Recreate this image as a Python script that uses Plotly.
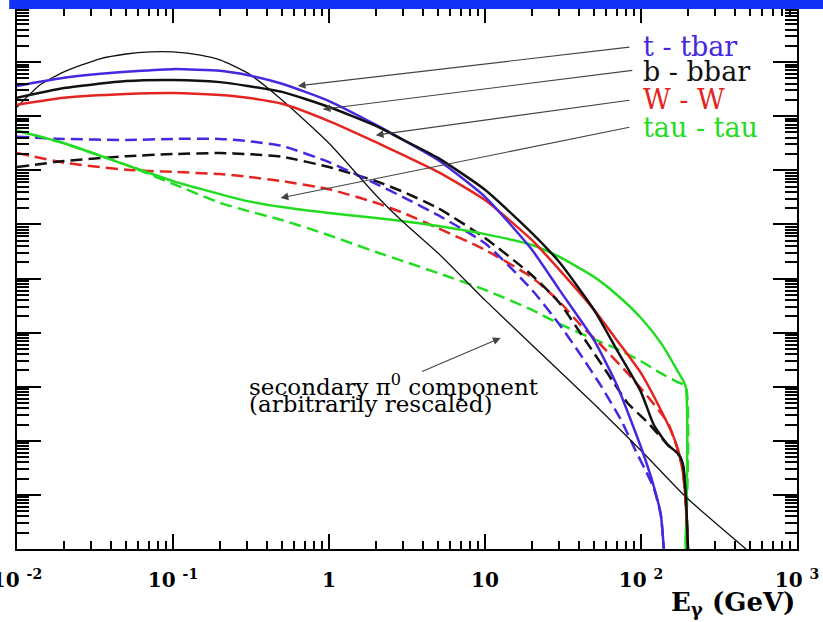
import numpy as np
import plotly.graph_objects as go

# Photon spectra from dark-matter annihilation (log10 of the flux, arbitrary units)
# Energies in GeV

# t - tbar channel
E_tt = [0.01, 0.02, 0.05, 0.1, 0.2, 0.3, 0.5, 1, 2, 3, 5, 10, 20, 30, 50, 70, 100, 121, 134, 140]
tt_solid = [0.56, 0.71, 0.82, 0.87, 0.84, 0.76, 0.60, 0.28, -0.16, -0.44, -0.81, -1.49, -2.47,
            -3.21, -4.14, -4.97, -6.12, -6.85, -7.37, -8.0]
E_tt_d = [0.01, 0.02, 0.05, 0.1, 0.2, 0.3, 0.5, 1, 2, 3, 5, 10, 20, 30, 41, 55, 74, 93, 107, 121, 134, 140]
tt_dash = [-0.38, -0.42, -0.44, -0.42, -0.42, -0.46, -0.55, -0.85, -1.25, -1.50, -1.83, -2.35, -3.21,
           -3.85, -4.41, -4.97, -5.60, -6.20, -6.55, -6.88, -7.37, -8.0]

# b - bbar channel
E_bb = [0.01, 0.02, 0.05, 0.1, 0.2, 0.3, 0.5, 1, 2, 3, 5, 10, 20, 30, 50, 70, 100, 121, 149, 172, 185, 194, 200]
bb_solid = [0.34, 0.52, 0.65, 0.67, 0.63, 0.56, 0.45, 0.17, -0.18, -0.44, -0.77, -1.36, -2.16, -2.70,
            -3.58, -4.32, -5.10, -5.71, -6.08, -6.23, -6.41, -7.04, -8.0]
E_bb_d = [0.01, 0.02, 0.05, 0.1, 0.2, 0.3, 0.5, 1, 2, 3, 5, 10, 20, 30, 43, 61, 82, 111, 149, 172, 185, 194, 200]
bb_dash = [-0.94, -0.83, -0.74, -0.70, -0.68, -0.70, -0.75, -0.94, -1.20, -1.40, -1.70, -2.25, -2.94,
           -3.45, -4.10, -4.75, -5.30, -5.67, -6.08, -6.23, -6.41, -7.04, -8.0]

# W - W channel
E_ww = [0.01, 0.02, 0.05, 0.1, 0.2, 0.3, 0.5, 1, 2, 3, 5, 10, 20, 30, 50, 70, 100, 134, 163, 180, 191, 200]
ww_solid = [0.21, 0.34, 0.41, 0.43, 0.39, 0.34, 0.23, -0.09, -0.48, -0.72, -1.03, -1.55, -2.29, -2.84,
            -3.58, -4.14, -4.75, -5.43, -5.95, -6.35, -6.91, -8.0]
E_ww_d = [0.01, 0.02, 0.05, 0.1, 0.2, 0.3, 0.5, 1, 2, 3, 5, 10, 20, 30, 41, 55, 82, 111, 149, 172, 185, 191, 200]
ww_dash = [-0.68, -0.86, -0.99, -1.03, -1.07, -1.12, -1.20, -1.35, -1.60, -1.79, -2.07, -2.47, -2.98,
           -3.43, -3.86, -4.22, -4.75, -5.19, -5.67, -6.17, -6.54, -6.91, -8.0]

# tau - tau channel
E_tau = [0.01, 0.02, 0.05, 0.1, 0.2, 0.3, 0.5, 1, 2, 3, 5, 10, 20, 30, 50, 70, 100, 134, 170, 193, 193]
tau_solid = [-0.27, -0.50, -0.90, -1.20, -1.44, -1.57, -1.68, -1.79, -1.88, -1.94, -2.03, -2.18, -2.38,
             -2.60, -2.97, -3.30, -3.73, -4.19, -4.69, -4.99, -8.0]
tau_dash = [-0.27, -0.50, -0.90, -1.25, -1.60, -1.75, -1.92, -2.20, -2.51, -2.68, -2.90, -3.21, -3.58,
            -3.84, -4.12, -4.30, -4.53, -4.75, -4.91, -4.99, -8.0]

# secondary pi0 component (arbitrarily rescaled)
E_pi = [0.01, 0.0141, 0.02, 0.034, 0.05, 0.0715, 0.1, 0.15, 0.2, 0.3, 0.5, 1, 2, 3, 5, 10, 20, 50, 104, 194, 471]
pi_vals = [0.17, 0.58, 0.82, 1.06, 1.15, 1.19, 1.19, 1.13, 1.04, 0.80, 0.30, -0.50, -1.46, -1.96, -2.53,
           -3.40, -4.23, -5.32, -6.23, -7.04, -8.0]

x_tick_text = {"0.01": "10 <sup>-2</sup>", "0.1": "10 <sup>-1</sup>", "1": "1", "10": "10",
               "100": "10 <sup>2</sup>", "1000": "10 <sup>3</sup>"}

BLUE = "#4628e0"
RED = "#e42420"
GREEN = "#22dc22"
BLACK = "#111111"
DASH = "12px,6px"

fig = go.Figure()


def add_curve(E, lg, color, width=2.5, dash="solid"):
    fig.add_trace(go.Scatter(
        x=E, y=np.power(10.0, lg), mode="lines",
        line=dict(color=color, width=width, dash=dash, shape="spline", smoothing=0.55),
        showlegend=False, hoverinfo="skip"))


add_curve(E_tau, tau_dash, GREEN, dash=DASH)
add_curve(E_ww_d, ww_dash, RED, dash=DASH)
add_curve(E_bb_d, bb_dash, BLACK, dash=DASH)
add_curve(E_tt_d, tt_dash, BLUE, dash=DASH)
add_curve(E_tau, tau_solid, GREEN)
add_curve(E_pi, pi_vals, BLACK, width=1.3)
add_curve(E_ww, ww_solid, RED)
add_curve(E_tt, tt_solid, BLUE)
add_curve(E_bb, bb_solid, BLACK)

axis_common = dict(
    type="log", showgrid=False, zeroline=False, showline=True, linewidth=2, linecolor="black",
    mirror="allticks", ticks="inside", tickcolor="black", tickwidth=2, automargin=False,
)

fig.update_xaxes(
    **axis_common, range=[-2, 3], tickmode="linear", tick0=0, dtick=1, ticklen=15,
    exponentformat="none", labelalias=x_tick_text, ticklabelstandoff=12, ticklabeloverflow="allow",
    tickfont=dict(family="DejaVu Serif", size=20, color="black", weight="bold"),
    minor=dict(ticks="inside", ticklen=8, tickwidth=1.5, tickcolor="black", dtick="D1", showgrid=False),
)
fig.update_yaxes(
    **axis_common, range=[-8, 2], tickmode="linear", tick0=0, dtick=1, ticklen=24,
    showticklabels=False,
    minor=dict(ticks="inside", ticklen=12, tickwidth=1.5, tickcolor="black", dtick="D1", showgrid=False),
)

serif = "DejaVu Serif"
labels = [("t - tbar", BLUE, 0.928), ("b - bbar", BLACK, 0.882), ("W - W", RED, 0.830), ("tau - tau", GREEN, 0.780)]
annotations = []
for txt, col, yy in labels:
    annotations.append(dict(text=txt, x=0.80, y=yy, xref="paper", yref="paper", xanchor="left",
                            yanchor="middle", showarrow=False, font=dict(family=serif, size=27, color=col)))

# pointer lines from each channel name to its curve (head, tail in log10 units)
pointers = [((-0.20, 0.56), (1.935, 1.28)),
            ((-0.04, 0.13), (1.954, 0.85)),
            ((0.30, -0.35), (1.935, 0.30)),
            ((-0.31, -1.51), (1.935, -0.20)),
            ((1.10, -4.10), (0.587, -4.73))]
for (hx, hy), (tx, ty) in pointers:
    annotations.append(dict(text="", x=hx, y=hy, xref="x", yref="y", ax=tx, ay=ty, axref="x", ayref="y",
                            showarrow=True, arrowhead=2, arrowsize=1.4, arrowwidth=1.1, arrowcolor="#444444",
                            standoff=0))

annotations.append(dict(text="secondary π<sup>0</sup> component", x=0.295, y=0.303, xref="paper", yref="paper",
                        xanchor="left", yanchor="middle", showarrow=False,
                        font=dict(family=serif, size=23, color="black")))
annotations.append(dict(text="(arbitrarily rescaled)", x=0.295, y=0.268, xref="paper", yref="paper",
                        xanchor="left", yanchor="middle", showarrow=False,
                        font=dict(family=serif, size=23, color="black")))
annotations.append(dict(text="E<sub>γ</sub> (GeV)", x=1.0, y=-0.100, xref="paper", yref="paper",
                        xanchor="right", yanchor="middle", showarrow=False,
                        font=dict(family=serif, size=26, color="black", weight="bold")))

fig.update_layout(
    width=823, height=622,
    margin=dict(l=17, r=26, t=8, b=73, autoexpand=False),
    paper_bgcolor="white", plot_bgcolor="white",
    annotations=annotations,
    shapes=[dict(type="rect", xref="paper", yref="paper", x0=-0.01, x1=1.04, y0=0.998, y1=1.02,
                 fillcolor="#1432f5", line=dict(width=0), layer="above")],
)

fig.write_html("out.html")
